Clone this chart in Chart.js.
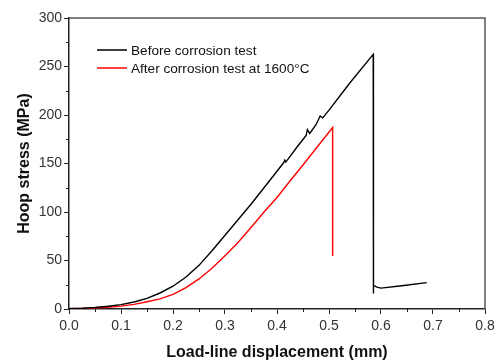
<!DOCTYPE html>
<html><head><meta charset="utf-8">
<script src="https://cdn.jsdelivr.net/npm/chart.js@4.4.1/dist/chart.umd.min.js"></script>
<style>html,body{margin:0;padding:0;background:#fff;}canvas{display:block;}</style>
</head><body>
<canvas id="c" width="499" height="363"></canvas>
<script>
const seriesLabels = ['Before corrosion test', 'After corrosion test at 1600\u00B0C'];
const seriesColors = ['#000000', '#ff0000'];
const beforeX = [0.000,0.025,0.050,0.075,0.100,0.125,0.150,0.175,0.200,0.225,0.250,0.275,0.300,0.325,0.350,0.375,0.400,0.413,0.415,0.417,0.440,0.456,0.4585,0.463,0.475,0.483,0.488,0.500,0.540,0.585,0.585,0.586,0.592,0.600,0.640,0.688];
const beforeY = [0.5,0.8,1.5,2.8,4.5,7.2,11,16.5,23.5,33,45,60,76,92,108,125,142,151,153.5,151.5,168,179,185,181,190,199,197,205,233,262.5,16,24.5,22.5,21.5,24,27.2];
const afterX = [0.000,0.025,0.050,0.075,0.100,0.125,0.150,0.175,0.200,0.225,0.250,0.275,0.300,0.325,0.350,0.375,0.400,0.425,0.450,0.475,0.507,0.507];
const afterY = [0.3,0.5,0.9,1.8,3,4.8,7.5,10.5,15,22,31,42,55,68.5,84,100,115,132,148.5,165.5,187,54.6];
const xTicks = [0,0.1,0.2,0.3,0.4,0.5,0.6,0.7,0.8];
const yTicks = [0,50,100,150,200,250,300];
const xMinorTicks = [0.05,0.15,0.25,0.35,0.45,0.55,0.65,0.75];
const yMinorTicks = [25,75,125,175,225,275];

const FONT = "'Liberation Sans', Arial, sans-serif";

function pts(xs, ys){ return xs.map((x,i)=>({x:x, y:ys[i]})); }

const decor = {
  id: 'decor',
  afterDraw(chart){
    const ctx = chart.ctx, a = chart.chartArea;
    const xs = chart.scales.x, ys = chart.scales.y;
    ctx.save();
    ctx.strokeStyle = '#555';
    ctx.lineWidth = 1.5;
    ctx.beginPath();
    ctx.moveTo(a.left, a.top); ctx.lineTo(a.right, a.top); ctx.lineTo(a.right, a.bottom);
    ctx.stroke();
    ctx.strokeStyle = '#222';
    ctx.lineWidth = 1;
    ctx.beginPath();
    xMinorTicks.forEach(v=>{ const p = Math.round(xs.getPixelForValue(v))+0.5; ctx.moveTo(p, a.bottom); ctx.lineTo(p, a.bottom+3); });
    yMinorTicks.forEach(v=>{ const p = Math.round(ys.getPixelForValue(v))+0.5; ctx.moveTo(a.left, p); ctx.lineTo(a.left-3, p); });
    ctx.stroke();
    const lx0 = 97, lx1 = 127, ly = [50, 68];
    ctx.font = '13.6px ' + FONT;
    ctx.textBaseline = 'middle';
    ctx.fillStyle = '#111';
    chart.data.datasets.forEach((ds,i)=>{
      ctx.strokeStyle = ds.borderColor;
      ctx.lineWidth = 1.5;
      ctx.beginPath(); ctx.moveTo(lx0, ly[i]); ctx.lineTo(lx1, ly[i]); ctx.stroke();
      ctx.fillText(ds.label, 131, ly[i]+1);
    });
    ctx.restore();
  }
};

new Chart(document.getElementById('c'), {
  type: 'line',
  data: {
    datasets: [
      { label: seriesLabels[0], data: pts(beforeX, beforeY), borderColor: seriesColors[0], borderWidth: 1.4, pointRadius: 0, tension: 0, fill: false },
      { label: seriesLabels[1], data: pts(afterX, afterY), borderColor: seriesColors[1], borderWidth: 1.4, pointRadius: 0, tension: 0, fill: false }
    ]
  },
  options: {
    responsive: false,
    animation: false,
    layout: { padding: { top: 18, right: 14, left: 0, bottom: 0 } },
    plugins: { legend: { display: false }, tooltip: { enabled: false } },
    scales: {
      x: {
        type: 'linear', min: 0, max: 0.8,
        afterBuildTicks: s => { s.ticks = xTicks.map(v=>({value:v})); },
        afterFit: s => { s.height = 54; },
        ticks: { callback: v => Number(v).toFixed(1), font: { size: 14, family: FONT }, color: '#333', padding: 4, maxRotation: 0 },
        grid: { drawOnChartArea: false, drawTicks: true, tickLength: 5, tickColor: '#222', tickWidth: 1 },
        border: { display: true, color: '#222', width: 1.5 },
        title: { display: true, text: 'Load-line displacement (mm)', font: { size: 16, weight: 'bold', family: FONT }, color: '#111', padding: { top: 0, bottom: 1 } }
      },
      y: {
        type: 'linear', min: 0, max: 300,
        afterBuildTicks: s => { s.ticks = yTicks.map(v=>({value:v})); },
        afterFit: s => { s.width = 69; },
        ticks: { font: { size: 14, family: FONT }, color: '#333', padding: 2 },
        grid: { drawOnChartArea: false, drawTicks: true, tickLength: 5, tickColor: '#222', tickWidth: 1 },
        border: { display: true, color: '#222', width: 1.5 },
        title: { display: true, text: 'Hoop stress (MPa)', font: { size: 16, weight: 'bold', family: FONT }, color: '#111', padding: { top: 15, bottom: 0 } }
      }
    }
  },
  plugins: [decor]
});
</script>
</body></html>
